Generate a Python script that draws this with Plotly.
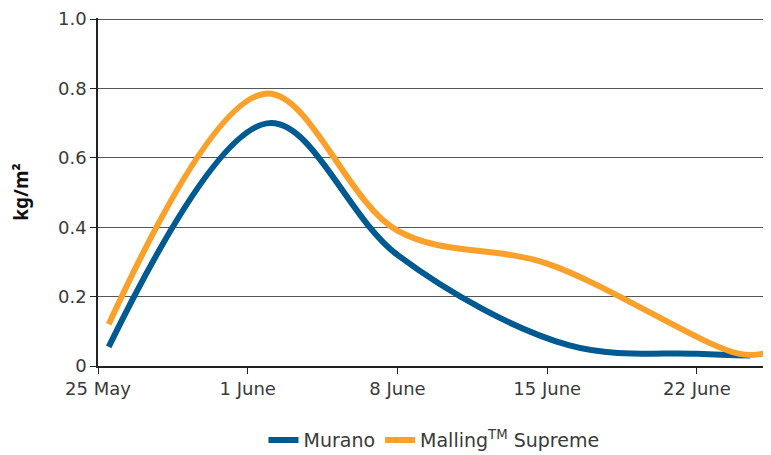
import plotly.graph_objects as go

murano_dates = ["2024-05-25 12:00", "2024-06-02 00:00", "2024-06-08 00:00", "2024-06-16 00:00", "2024-06-22 00:00", "2024-06-24 12:00"]
murano_vals = [0.055, 0.70, 0.32, 0.06, 0.035, 0.03]

supreme_dates = ["2024-05-25 12:00", "2024-06-01 20:00", "2024-06-08 00:00", "2024-06-15 00:00", "2024-06-24 00:00", "2024-06-25 10:00"]
supreme_vals = [0.12, 0.785, 0.39, 0.295, 0.035, 0.04]

x_tick_vals = ["2024-05-25", "2024-06-01", "2024-06-08", "2024-06-15", "2024-06-22"]
x_tick_text = ["25 May", "1 June", "8 June", "15 June", "22 June"]
y_tick_vals = [0, 0.2, 0.4, 0.6, 0.8, 1.0]
y_tick_text = ["0", "0.2", "0.4", "0.6", "0.8", "1.0"]

fig = go.Figure()
fig.add_trace(go.Scatter(x=murano_dates, y=murano_vals, mode="lines", name="Murano",
                         line=dict(color="#005A92", width=6, shape="spline", smoothing=1.0)))
fig.add_trace(go.Scatter(x=supreme_dates, y=supreme_vals, mode="lines", name="Malling<sup>TM</sup> Supreme",
                         line=dict(color="#F9A12B", width=6, shape="spline", smoothing=1.0)))

font_fam = "DejaVu Sans, sans-serif"
txt_col = "#3a3a3a"
# page body has an 8px default margin, so the figure is sized to fit the 771x455 window
fig.update_layout(
    width=763, height=447,
    margin=dict(l=90, r=1, t=10, b=89, autoexpand=False),
    plot_bgcolor="white", paper_bgcolor="white",
    font=dict(family=font_fam, size=18, color=txt_col),
    legend=dict(orientation="h", x=0.5, xanchor="center", y=-0.213, yanchor="middle",
                font=dict(size=19, color=txt_col), traceorder="normal"),
    showlegend=True,
)
fig.update_xaxes(
    range=["2024-05-25 00:00", "2024-06-25 10:00"],
    tickvals=x_tick_vals, ticktext=x_tick_text,
    showline=True, linecolor="#222222", linewidth=1.5,
    ticks="outside", ticklen=6, tickcolor="#222222",
    showgrid=False, zeroline=False, automargin=False,
    tickfont=dict(size=18, color=txt_col),
)
fig.update_yaxes(
    range=[0, 1.003],
    tickvals=y_tick_vals, ticktext=y_tick_text,
    showline=True, linecolor="#222222", linewidth=1.5,
    ticks="outside", ticklen=6, tickcolor="#222222",
    showgrid=True, gridcolor="#555555", gridwidth=1,
    zeroline=False, automargin=False, ticklabeloverflow="allow",
    title=dict(text="<b>kg/m²</b>", font=dict(family="Noto Sans, sans-serif", size=19, color="#111111"), standoff=24),
    tickfont=dict(size=18, color=txt_col),
)
fig.write_html("out.html")
